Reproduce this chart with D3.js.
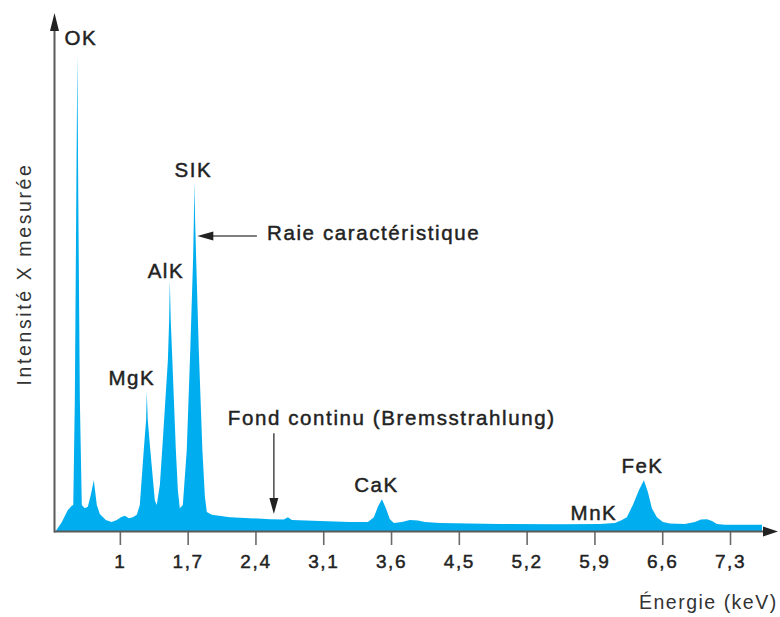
<!DOCTYPE html>
<html>
<head>
<meta charset="utf-8">
<script src="https://cdn.jsdelivr.net/npm/d3@7"></script>
<style>
  html, body { margin: 0; padding: 0; background: #fff; }
  svg { display: block; }
  text { font-family: "Liberation Sans", Arial, Helvetica, sans-serif; fill: #222; }
  text.bold { stroke: #222; stroke-width: 0.45px; }
</style>
</head>
<body>
<svg id="chart" width="780" height="617"></svg>
<script>
// ---- Data (energy in keV, intensity in arbitrary units, OK peak = 100) ----
const energy = [0.339,0.401,0.463,0.504,0.519,0.535,0.550,0.561,0.571,0.587,0.607,0.638,0.669,0.700,0.731,0.762,0.793,0.855,0.914,0.969,1.010,1.051,1.093,1.134,1.175,
  1.206,1.247,1.271,1.278,1.288,1.314,1.361,1.381,
  1.413,1.444,1.496,1.509,1.516,1.525,1.542,1.578,1.599,1.619,
  1.650,1.691,1.727,1.756,1.764,1.769,1.777,1.788,1.815,1.852,1.878,1.898,1.950,
  2.136,2.342,2.549,2.693,2.735,2.776,3.065,3.375,3.561,3.623,3.664,3.706,3.747,3.788,3.829,3.912,3.994,4.077,4.150,4.304,4.924,5.544,5.957,
  6.112,6.184,6.235,6.297,6.359,6.411,6.452,6.493,6.545,6.607,6.679,6.834,6.938,7.000,7.062,7.114,7.165,7.247,7.630];
const intensity = [0,1.9,4.4,5.3,5.5,27.6,69.7,100.2,69.7,27.6,5.5,4.8,5.1,7.6,10.7,5.5,3.6,2.3,1.9,2.3,2.9,3.2,2.7,2.9,3.4,
  5.5,17.1,23.4,29.3,23.4,17.1,6.5,5.5,
  9.7,19.2,36.0,44.4,52.8,44.4,36.0,17.1,8.6,4.8,
  5.5,17.1,38.1,57.1,65.5,73.5,65.5,57.1,38.1,17.1,7.2,4.0,3.4,
  2.9,2.7,2.5,2.4,2.9,2.3,2.1,1.9,1.9,2.9,5.1,6.7,4.8,2.5,1.7,1.9,2.3,2.2,1.9,1.7,1.5,1.4,1.5,
  1.7,2.3,2.9,5.5,8.6,10.7,8.2,4.8,2.9,1.9,1.6,1.5,1.9,2.4,2.5,2.1,1.5,1.3,1.3];

const tickValues = [1, 1.7, 2.4, 3.1, 3.8, 4.5, 5.2, 5.9, 6.6, 7.3];
const tickLabels = ["1", "1,7", "2,4", "3,1", "3,6", "4,5", "5,2", "5,9", "6,6", "7,3"];

const peakNames  = ["OK", "MgK", "AlK", "SIK", "CaK", "MnK", "FeK"];
const peakEnergy = [0.597, 1.124, 1.475, 1.759, 3.649, 5.895, 6.396];
const peakLevel  = [102.3, 30.7, 53.3, 74.5, 8.2, 2.3, 12.2];

const xTitle = "Énergie (keV)";
const yTitle = "Intensité X mesurée";

// ---- Chart ----
const svg = d3.select("#chart");
const x = d3.scaleLinear().domain([0.32, 7.78]).range([54, 776.5]);
const y = d3.scaleLinear().domain([0, 100]).range([531, 56]);

const data = energy.map((e, i) => ({ e, v: intensity[i] }));

const area = d3.area()
  .x(d => x(d.e))
  .y0(y(0))
  .y1(d => y(d.v));

svg.append("path")
  .datum(data)
  .attr("d", area)
  .attr("fill", "#00aeef");

// X axis
const xAxis = d3.axisBottom(x)
  .tickValues(tickValues)
  .tickFormat((d, i) => tickLabels[i])
  .tickSize(13)
  .tickSizeOuter(0);

const gx = svg.append("g")
  .attr("transform", `translate(0,${y(0) + 1})`)
  .call(xAxis);
gx.select(".domain").remove();
gx.selectAll(".tick line").attr("stroke", "#6a6a6a").attr("stroke-width", 1.6);
gx.selectAll(".tick text")
  .attr("class", "bold")
  .attr("y", 36)
  .attr("dy", 0)
  .style("font-size", "19px")
  .style("letter-spacing", "1.6px")
  .style("font-family", "'Liberation Sans', Arial, sans-serif")
  .attr("fill", "#222");

const axisColor = "#5a5a5a";
// x axis line + arrow
svg.append("line")
  .attr("x1", x(0.32)).attr("x2", 766)
  .attr("y1", y(0) + 0.5).attr("y2", y(0) + 0.5)
  .attr("stroke", axisColor).attr("stroke-width", 2);
svg.append("path")
  .attr("d", `M778,${y(0) + 0.5} L763,${y(0) - 4.5} L763,${y(0) + 5.5} Z`)
  .attr("fill", "#222");

// y axis line + arrow
svg.append("line")
  .attr("x1", 54.5).attr("x2", 54.5)
  .attr("y1", y(0) + 1.5).attr("y2", 28)
  .attr("stroke", axisColor).attr("stroke-width", 2);
svg.append("path")
  .attr("d", `M54.5,13 L50,31 L59,31 Z`)
  .attr("fill", "#222");

// Peak labels
svg.selectAll("text.peak")
  .data(peakNames)
  .join("text")
  .attr("class", "peak bold")
  .attr("x", (d, i) => x(peakEnergy[i]))
  .attr("y", (d, i) => y(peakLevel[i]))
  .attr("text-anchor", "middle")
  .style("font-size", "20.5px")
  .style("letter-spacing", "1.5px")
  .text(d => d);

// Annotation: Raie caractéristique
const raieY = y(62.1);
svg.append("line")
  .attr("x1", x(2.415)).attr("x2", x(1.80) + 14)
  .attr("y1", raieY).attr("y2", raieY)
  .attr("stroke", "#555").attr("stroke-width", 1.6);
svg.append("path")
  .attr("d", `M${x(1.80)},${raieY} L${x(1.80) + 16},${raieY - 4.5} L${x(1.80) + 16},${raieY + 4.5} Z`)
  .attr("fill", "#222");
svg.append("text")
  .attr("class", "bold")
  .attr("x", x(2.52)).attr("y", y(61.3))
  .style("font-size", "20.5px")
  .style("letter-spacing", "1.6px")
  .text("Raie caractéristique");

// Annotation: Fond continu
const fx = x(2.59);
svg.append("line")
  .attr("x1", fx).attr("x2", fx)
  .attr("y1", y(20.6)).attr("y2", y(3.6) - 14)
  .attr("stroke", "#555").attr("stroke-width", 1.6);
svg.append("path")
  .attr("d", `M${fx},${y(3.6)} L${fx - 4.5},${y(3.6) - 16} L${fx + 4.5},${y(3.6) - 16} Z`)
  .attr("fill", "#222");
svg.append("text")
  .attr("class", "bold")
  .attr("x", x(2.115)).attr("y", y(22.3))
  .style("font-size", "20.5px")
  .style("letter-spacing", "1.6px")
  .text("Fond continu (Bremsstrahlung)");

// Axis titles
svg.append("text")
  .attr("x", 639).attr("y", 609)
  .style("font-size", "19.5px")
  .style("letter-spacing", "1.5px")
  .style("fill", "#333")
  .text(xTitle);

svg.append("text")
  .attr("transform", "translate(31,274) rotate(-90)")
  .attr("text-anchor", "middle")
  .style("font-size", "19.5px")
  .style("letter-spacing", "2.6px")
  .style("fill", "#333")
  .text(yTitle);
</script>
</body>
</html>
